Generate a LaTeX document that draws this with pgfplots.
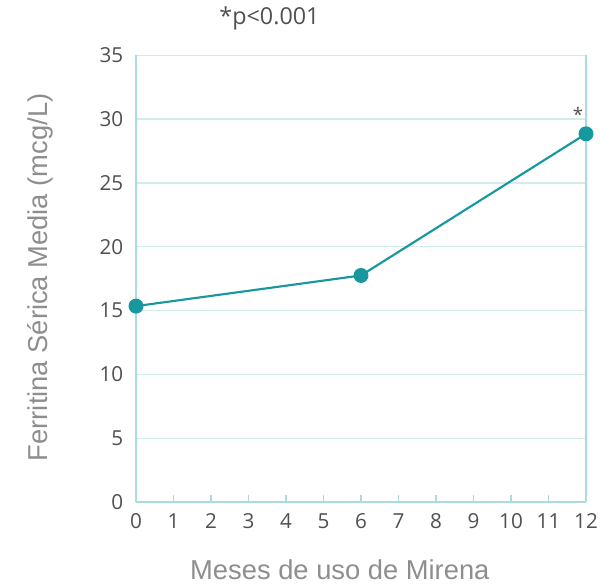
\documentclass[border=0pt]{standalone}
\usepackage{pgfplots}
\pgfplotsset{compat=1.18}
\usepackage{fontspec}
\setmainfont{Open Sans}
\newfontfamily\labfont{Liberation Sans}
\definecolor{teal1}{HTML}{16989E}
\definecolor{gridc}{HTML}{D2ECEC}
\definecolor{axc}{HTML}{A9DCDC}
\definecolor{tickc}{HTML}{505050}
\definecolor{labc}{HTML}{8E8E8E}
\begin{document}
\begin{tikzpicture}[x=1pt,y=1pt]
\begin{axis}[
  at={(0,0)}, anchor=south west,
  scale only axis, width=337.5pt, height=335pt,
  xmin=0, xmax=12, ymin=0, ymax=35,
  xtick={0,...,12}, ytick={0,5,...,35},
  axis line style={axc, line width=1pt},
  axis x line*=bottom, axis y line*=left,
  ymajorgrids, grid style={gridc, line width=1pt},
  xtick style={axc, line width=1pt}, ytick style={draw=none},
  major tick length=5pt,
  tick align=inside,
  ticklabel style={font=\fontsize{15.5}{18}\selectfont, text=tickc},
  /pgf/number format/assume math mode=true,
  xticklabel style={yshift=-5pt},
  yticklabel style={xshift=-6pt},
  xlabel={\labfont Meses de uso de Mirena},
  ylabel={\labfont Ferritina Sérica Media (mcg/L)},
  label style={font=\fontsize{20.5}{24}\selectfont, text=labc},
  xlabel style={at={(axis description cs:0.453,-0.152)}, anchor=center},
  ylabel style={at={(axis description cs:-0.213,0.503)}, anchor=center},
  clip=false,
]
\draw[axc, line width=1pt] (rel axis cs:1,0) -- (rel axis cs:1,1);
\addplot[teal1, line width=1.6pt, mark=*, mark size=4.8pt, mark options={fill=teal1, draw=teal1}]
  coordinates {(0,15.35) (6,17.75) (12,28.85)};
\node[font=\fontsize{14}{15}\selectfont, text=tickc] at (axis cs:11.79,30.4) {*};
\node[font=\fontsize{17.5}{19}\selectfont, text=tickc] at (axis cs:3.56,37.9) {*p<0.001};
\end{axis}
\pgfresetboundingbox
\path (-102pt,-63pt) rectangle (348pt,376.5pt);
\end{tikzpicture}
\end{document}
